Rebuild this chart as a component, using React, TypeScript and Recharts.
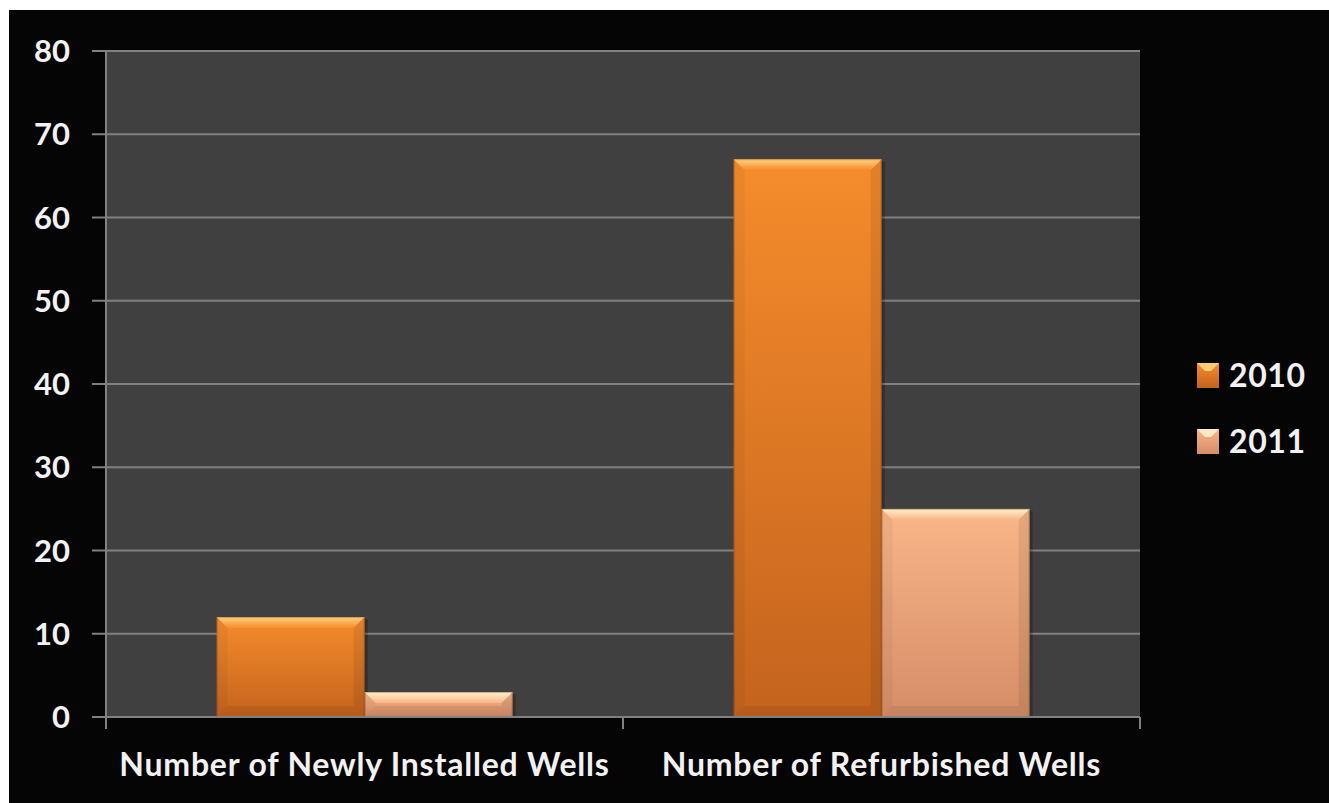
import { BarChart, Bar, XAxis, YAxis, CartesianGrid, Legend } from 'recharts';

const categories = ['Number of Newly Installed Wells', 'Number of Refurbished Wells'];
const series2010 = [12, 67];
const series2011 = [3, 25];
const yTicks = [0, 10, 20, 30, 40, 50, 60, 70, 80];
const seriesNames = ['2010', '2011'];

const data = categories.map((name, i) => ({
  name,
  '2010': series2010[i],
  '2011': series2011[i],
}));

const FONT = 'Lato, "Open Sans", sans-serif';
const TEXT = '#f2f2f2';
const LINE = '#808080';

const palette: Record<string, { top: string; bottom: string; shine: string }> = {
  '2010': { top: '#f58c2c', bottom: '#c4631e', shine: '#ffd27e' },
  '2011': { top: '#f9b688', bottom: '#d58d68', shine: '#fff0cc' },
};

const Gradients = () => (
  <defs>
    {seriesNames.map((k) => (
      <g key={k}>
        <linearGradient id={`body-${k}`} x1="0" y1="0" x2="0" y2="1">
          <stop offset="0%" stopColor={palette[k].top} />
          <stop offset="100%" stopColor={palette[k].bottom} />
        </linearGradient>
        <linearGradient id={`shine-${k}`} x1="0" y1="0" x2="0" y2="1">
          <stop offset="0%" stopColor={palette[k].shine} />
          <stop offset="100%" stopColor={palette[k].top} />
        </linearGradient>
      </g>
    ))}
  </defs>
);

// bar with a bevelled rim: light top edge, slightly darker sides and bottom
const bevelShape = (key: string) => (props: any) => {
  const { x, y, width: w, height: h } = props;
  if (!h || h <= 0) return <g />;
  const b = Math.min(11, h / 2, w / 2);
  return (
    <g>
      <rect x={x + 3} y={y + 2} width={w} height={h - 2} fill="rgba(0,0,0,0.25)" />
      <rect x={x} y={y} width={w} height={h} fill={`url(#body-${key})`} />
      <polygon
        points={`${x},${y} ${x + w},${y} ${x + w - b},${y + b} ${x + b},${y + b}`}
        fill={`url(#shine-${key})`}
      />
      <polygon
        points={`${x},${y} ${x + b},${y + b} ${x + b},${y + h - b} ${x},${y + h}`}
        fill="rgba(0,0,0,0.04)"
      />
      <polygon
        points={`${x + w},${y} ${x + w - b},${y + b} ${x + w - b},${y + h - b} ${x + w},${y + h}`}
        fill="rgba(0,0,0,0.08)"
      />
      <polygon
        points={`${x},${y + h} ${x + b},${y + h - b} ${x + w - b},${y + h - b} ${x + w},${y + h}`}
        fill="rgba(0,0,0,0.07)"
      />
      <rect x={x + 0.5} y={y + 0.5} width={w - 1} height={h - 1} fill="none" stroke="rgba(90,40,0,0.3)" />
    </g>
  );
};

// category label plus tick marks on the band boundaries
const CategoryTick = (props: any) => {
  const { x, y, payload, index } = props;
  const half = payload.offset || 258.5;
  return (
    <g>
      <line x1={x - half} y1={y} x2={x - half} y2={y + 12} stroke={LINE} strokeWidth={2} />
      {index === categories.length - 1 && (
        <line x1={x + half} y1={y} x2={x + half} y2={y + 12} stroke={LINE} strokeWidth={2} />
      )}
      <text
        x={x}
        y={y + 59}
        textAnchor="middle"
        fill={TEXT}
        fontFamily={FONT}
        fontWeight={700}
        fontSize={32}
        letterSpacing={0.8}
      >
        {payload.value}
      </text>
    </g>
  );
};

const LegendIcon = ({ k }: { k: string }) => (
  <svg width={22} height={25} style={{ display: 'block' }}>
    <defs>
      <linearGradient id={`lg-${k}`} x1="0" y1="0" x2="0" y2="1">
        <stop offset="0%" stopColor={palette[k].top} />
        <stop offset="100%" stopColor={palette[k].bottom} />
      </linearGradient>
    </defs>
    <rect x={0} y={0} width={22} height={25} fill={`url(#lg-${k})`} />
    <polygon points="0,0 22,0 14,8 8,8" fill={palette[k].shine} opacity={0.9} />
  </svg>
);

const LegendContent = () => (
  <div style={{ display: 'flex', flexDirection: 'column', gap: 40 }}>
    {seriesNames.map((k) => (
      <div key={k} style={{ display: 'flex', alignItems: 'center', height: 26 }}>
        <LegendIcon k={k} />
        <span
          style={{
            marginLeft: 10,
            color: TEXT,
            fontFamily: FONT,
            fontWeight: 700,
            fontSize: 32,
            letterSpacing: 0.6,
            lineHeight: '26px',
          }}
        >
          {k}
        </span>
      </div>
    ))}
  </div>
);

export default function App() {
  return (
    <div style={{ position: 'absolute', left: 0, top: 0, width: 1329, height: 803, background: '#fff', overflow: 'hidden' }}>
      <div style={{ position: 'absolute', left: 9, top: 10, right: 0, bottom: 0, background: '#050505' }} />
      <div style={{ position: 'absolute', left: 0, top: 0 }}>
        <BarChart
          width={1329}
          height={803}
          data={data}
          margin={{ top: 51, right: 189, bottom: 10, left: 10 }}
          barCategoryGap="21.4%"
          barGap={0}
        >
          <Gradients />
          <CartesianGrid vertical={false} fill="#404040" stroke={LINE} strokeWidth={2} />
          <XAxis
            dataKey="name"
            height={76}
            tickLine={false}
            tickSize={0}
            tickMargin={0}
            axisLine={{ stroke: LINE, strokeWidth: 2 }}
            tick={<CategoryTick />}
            interval={0}
          />
          <YAxis
            width={96}
            domain={[0, 80]}
            ticks={yTicks}
            tickSize={14}
            tickMargin={22}
            axisLine={{ stroke: LINE, strokeWidth: 2 }}
            tickLine={{ stroke: LINE, strokeWidth: 2 }}
            tick={{ fill: TEXT, fontFamily: FONT, fontWeight: 700, fontSize: 31 }}
          />
          <Legend
            layout="vertical"
            align="center"
            verticalAlign="middle"
            content={<LegendContent />}
            wrapperStyle={{ left: 1197, top: 362, width: 130 }}
          />
          <Bar dataKey="2010" isAnimationActive={false} shape={bevelShape('2010')} />
          <Bar dataKey="2011" isAnimationActive={false} shape={bevelShape('2011')} />
        </BarChart>
      </div>
    </div>
  );
}
